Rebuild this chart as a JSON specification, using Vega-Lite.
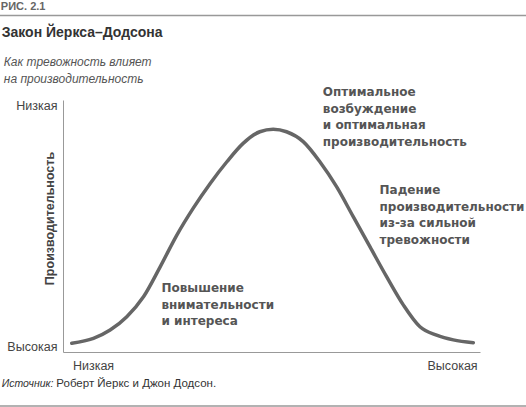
{
  "$schema": "https://vega.github.io/schema/vega-lite/v6.json",
  "width": 417,
  "height": 252,
  "autosize": {"type": "none"},
  "padding": {"left": 63, "top": 100, "right": 46, "bottom": 55},
  "background": "white",
  "config": {"font": "Liberation Sans", "view": {"stroke": null}},
  "datasets": {
    "curve": [
      {"anxiety": 2.1, "performance": 3.5},
      {"anxiety": 7.3, "performance": 5.4},
      {"anxiety": 11.3, "performance": 8.7},
      {"anxiety": 15.3, "performance": 14.0},
      {"anxiety": 19.3, "performance": 21.9},
      {"anxiety": 23.3, "performance": 33.8},
      {"anxiety": 27.3, "performance": 46.4},
      {"anxiety": 31.2, "performance": 57.0},
      {"anxiety": 35.3, "performance": 66.9},
      {"anxiety": 39.3, "performance": 75.5},
      {"anxiety": 43.2, "performance": 82.8},
      {"anxiety": 47.2, "performance": 87.4},
      {"anxiety": 50.4, "performance": 88.4},
      {"anxiety": 53.6, "performance": 87.4},
      {"anxiety": 57.6, "performance": 83.5},
      {"anxiety": 61.6, "performance": 75.5},
      {"anxiety": 65.6, "performance": 65.6},
      {"anxiety": 69.6, "performance": 53.7},
      {"anxiety": 73.6, "performance": 41.8},
      {"anxiety": 77.6, "performance": 29.9},
      {"anxiety": 81.6, "performance": 18.7},
      {"anxiety": 85.6, "performance": 10.0},
      {"anxiety": 89.6, "performance": 6.7},
      {"anxiety": 93.6, "performance": 4.8},
      {"anxiety": 98.4, "performance": 3.7}
    ],
    "notes": [
      {"x": 62.3, "y": 101.6, "label": "Оптимальное\nвозбуждение\nи оптимальная\nпроизводительность"},
      {"x": 75.9, "y": 62.7, "label": "Падение\nпроизводительности\nиз-за сильной\nтревожности"},
      {"x": 23.6, "y": 23.8, "label": "Повышение\nвнимательности\nи интереса"}
    ]
  },
  "layer": [
    {
      "data": {"name": "curve"},
      "mark": {"type": "line", "interpolate": "monotone", "color": "#666", "strokeWidth": 3.5, "strokeCap": "round"},
      "encoding": {
        "x": {
          "field": "anxiety", "type": "quantitative",
          "scale": {"domain": [0, 100], "nice": false, "zero": false},
          "axis": {
            "values": [7.2, 93.3],
            "labelExpr": "datum.value < 50 ? 'Низкая' : 'Высокая'",
            "grid": false, "ticks": false, "tickSize": 0,
            "domainColor": "#999", "domainWidth": 1,
            "labelFontSize": 12.5, "labelColor": "#444", "labelPadding": 7,
            "labelFlush": false, "labelOverlap": false,
            "title": null
          }
        },
        "y": {
          "field": "performance", "type": "quantitative",
          "scale": {"domain": [0, 100], "nice": false, "zero": false},
          "axis": {
            "values": [2.1, 98],
            "labelExpr": "datum.value > 50 ? 'Низкая' : 'Высокая'",
            "grid": false, "ticks": false, "tickSize": 0,
            "domainColor": "#999", "domainWidth": 1,
            "labelFontSize": 12.5, "labelColor": "#444", "labelPadding": 6,
            "labelFlush": false, "labelOverlap": false,
            "title": "Производительность",
            "titleFontSize": 12.5, "titleFontWeight": "bold", "titleColor": "#444",
            "titleAngle": -90, "titleX": -10, "titleY": 118,
            "titleAlign": "center", "titleBaseline": "alphabetic"
          }
        }
      }
    },
    {
      "data": {"name": "notes"},
      "mark": {"type": "text", "align": "left", "baseline": "alphabetic", "font": "DejaVu Sans", "fontSize": 12, "fontWeight": "bold", "color": "#555", "lineBreak": "\n", "lineHeight": 16.7},
      "encoding": {
        "x": {"field": "x", "type": "quantitative"},
        "y": {"field": "y", "type": "quantitative"},
        "text": {"field": "label"}
      }
    },
    {
      "data": {"values": [{}]},
      "mark": {"type": "text", "align": "left", "baseline": "alphabetic", "fontSize": 11, "fontWeight": "bold", "color": "#666"},
      "encoding": {"x": {"datum": -14.9}, "y": {"datum": 135.7}, "text": {"value": "РИС. 2.1"}}
    },
    {
      "data": {"values": [{}]},
      "mark": {"type": "text", "align": "left", "baseline": "alphabetic", "fontSize": 14, "fontWeight": "bold", "color": "#333"},
      "encoding": {"x": {"datum": -14.7}, "y": {"datum": 125.0}, "text": {"value": "Закон Йеркса–Додсона"}}
    },
    {
      "data": {"values": [{}]},
      "mark": {"type": "text", "align": "left", "baseline": "alphabetic", "fontSize": 12, "fontStyle": "italic", "color": "#555", "lineBreak": "\n", "lineHeight": 17},
      "encoding": {"x": {"datum": -14.2}, "y": {"datum": 113.5}, "text": {"value": "Как тревожность влияет\nна производительность"}}
    },
    {
      "data": {"values": [{}]},
      "mark": {"type": "rule", "color": "#999", "strokeWidth": 1.5},
      "encoding": {"x": {"datum": -15.2}, "x2": {"datum": 111.2}, "y": {"datum": 133.5}}
    },
    {
      "data": {"values": [{}]},
      "mark": {"type": "text", "align": "left", "baseline": "alphabetic", "fontSize": 10.5, "fontStyle": "italic", "color": "#333"},
      "encoding": {"x": {"datum": -14.7}, "y": {"datum": -14.0}, "text": {"value": "Источник:"}}
    },
    {
      "data": {"values": [{}]},
      "mark": {"type": "text", "align": "left", "baseline": "alphabetic", "fontSize": 11.5, "color": "#333"},
      "encoding": {"x": {"datum": -1.6}, "y": {"datum": -14.0}, "text": {"value": "Роберт Йеркс и Джон Додсон."}}
    },
    {
      "data": {"values": [{}]},
      "mark": {"type": "rule", "color": "#999", "strokeWidth": 1.5},
      "encoding": {"x": {"datum": -15.2}, "x2": {"datum": 111.2}, "y": {"datum": -21.4}}
    }
  ]
}
